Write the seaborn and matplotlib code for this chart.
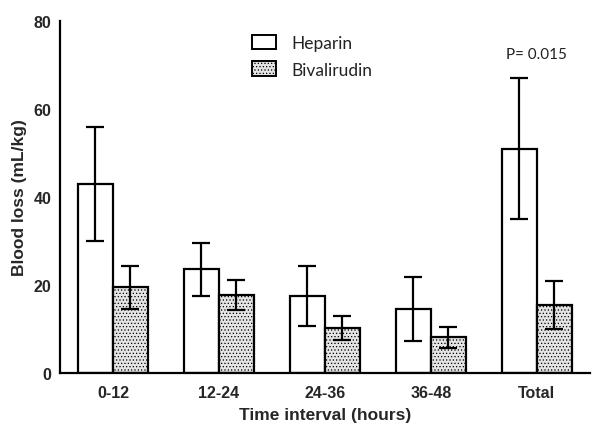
import numpy as np
import pandas as pd
import matplotlib
matplotlib.use("Agg")
import matplotlib.pyplot as plt
import seaborn as sns
from matplotlib.patches import Patch

# values (mean +/- error)
intervals = ["0-12", "12-24", "24-36", "36-48", "Total"]
heparin = [43.0, 23.6, 17.6, 14.6, 51.0]
heparin_err = [13.0, 6.0, 6.8, 7.3, 16.0]
bivalirudin = [19.5, 17.8, 10.3, 8.1, 15.5]
bivalirudin_err = [4.9, 3.4, 2.7, 2.4, 5.5]
groups = ["Heparin", "Bivalirudin"]

df = pd.DataFrame({
    "interval": intervals * 2,
    "group": [groups[0]] * 5 + [groups[1]] * 5,
    "loss": heparin + bivalirudin,
    "err": heparin_err + bivalirudin_err,
})

sns.set_style("white")
plt.rcParams["font.family"] = ["Liberation Sans", "DejaVu Sans"]
plt.rcParams["hatch.color"] = "#7a7a7a"
plt.rcParams["hatch.linewidth"] = 0.5

fig = plt.figure(figsize=(6, 4.31), dpi=100)
ax = fig.add_axes([0.1, 0.132, 0.883, 0.817])

sns.barplot(data=df, x="interval", y="loss", hue="group", order=intervals,
            hue_order=groups, errorbar=None, width=0.66,
            palette=["white", "#e4e4e4"], edgecolor="black", linewidth=1.6,
            legend=False, ax=ax)

for i, bar in enumerate(ax.patches[:10]):
    if i >= 5:
        bar.set_hatch(".....")
    x = bar.get_x() + bar.get_width() / 2
    ax.errorbar(x, df["loss"].iloc[i], yerr=df["err"].iloc[i], fmt="none",
                ecolor="black", elinewidth=1.6, capsize=6.5, capthick=1.6,
                zorder=5)

# legend
handles = [Patch(facecolor="white", edgecolor="black", linewidth=1.4),
           Patch(facecolor="#e4e4e4", edgecolor="black", linewidth=1.4,
                 hatch=".....")]
leg = ax.legend(handles, groups, loc="upper left",
                bbox_to_anchor=(0.332, 1.005),
                frameon=False, handlelength=1.4, handleheight=0.9,
                handletextpad=0.9, labelspacing=0.6,
                prop={"family": "Lato", "size": 12.5})
for t in leg.get_texts():
    t.set_color("#222222")

ax.text(4, 72.5, "P= 0.015", ha="center", va="center", fontsize=11,
        family="Lato", color="#222222")

ax.set_xlim(-0.5, 4.5)
ax.set_ylim(0, 80)
ax.set_yticks([0, 20, 40, 60, 80])
sns.despine(ax=ax)
for s in ["left", "bottom"]:
    ax.spines[s].set_linewidth(1.6)
    ax.spines[s].set_color("black")
ax.tick_params(axis="both", direction="out", length=5, width=1.6,
               color="black", labelsize=11.5)
ax.tick_params(axis="y", pad=1)
for lab in ax.get_xticklabels() + ax.get_yticklabels():
    lab.set_fontweight("bold")
ax.set_xlabel("Time interval (hours)", fontsize=12.5, fontweight="bold",
              labelpad=5)
ax.set_ylabel("Blood loss (mL/kg)", fontsize=12.5, fontweight="bold",
              labelpad=5)

fig.savefig("out.png", dpi=100, facecolor="white")
